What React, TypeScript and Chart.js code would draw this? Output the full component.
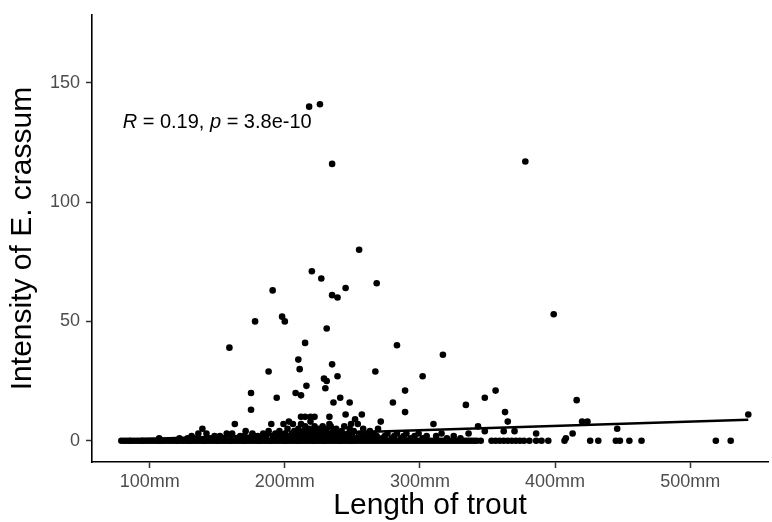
import React, { useEffect, useRef } from "react";
import { Chart, registerables } from "chart.js";

Chart.register(...registerables);

// Fish with zero E. crassum (length in mm)
const zeroLengths = [
  79, 81, 83, 85, 86, 88, 90, 92, 94, 95, 97, 99, 101, 103, 105, 107, 108, 110, 112, 114,
  116, 118, 120, 121, 123, 125, 127, 129, 130, 132, 134, 136, 138, 140, 141, 143, 145, 147,
  149, 150, 152, 154, 156, 158, 160, 161, 163, 165, 167, 169, 170, 172, 174, 176, 178, 180,
  181, 183, 185, 187, 189, 190, 192, 194, 196, 198, 200, 201, 203, 205, 207, 209, 210, 212,
  214, 216, 218, 220, 221, 223, 225, 227, 229, 230, 232, 234, 236, 238, 240, 241, 243, 245,
  247, 249, 250, 252, 254, 256, 258, 260, 262, 264, 266, 268, 270, 272, 274, 276, 278, 280,
  282, 284, 286, 288, 290, 292, 294, 296, 298, 300, 302, 304, 306, 308, 310, 312, 314, 316,
  318, 320, 322, 324, 326, 328, 330, 332, 334, 336, 338, 340, 342, 345, 353, 356, 359, 362,
  365, 368, 371, 374, 377, 381, 386, 390, 395, 407, 426, 432, 445, 448, 455, 464, 519, 530,
];

// Infected fish: length (mm) and intensity
const infectedLengths = [
  218, 226, 235, 378, 255, 220, 227, 268, 191, 245, 235, 239, 399, 198, 200, 178, 231, 215,
  283, 159, 317, 210, 211, 235, 188, 267, 239, 229, 231, 302, 216, 230, 175, 194, 208, 212,
  241, 236, 248, 280, 289, 289, 334, 348, 356, 363, 365, 416, 175, 245, 257, 543, 233, 212,
  215, 219, 222, 252, 254, 249, 271, 310, 163, 190, 203, 199, 206, 212, 219, 233, 234, 420,
  424, 343, 446, 139, 136, 142, 161, 171, 107, 413, 408, 386, 362, 370, 348,
  122, 128, 131, 133, 145, 148, 150, 152, 155, 157, 160, 165, 167, 170, 174, 176, 178, 180,
  182, 184, 186, 188, 191, 193, 195, 196, 198, 200, 201, 202, 204, 205, 207, 208, 209, 210,
  211, 213, 214, 215, 216, 217, 218, 220, 221, 222, 223, 224, 225, 226, 227, 228, 229, 230,
  231, 232, 234, 235, 236, 237, 238, 239, 240, 241, 242, 243, 244, 245, 246, 247, 248, 250,
  251, 253, 255, 256, 258, 259, 260, 262, 263, 265, 266, 268, 269, 272, 274, 276, 279, 281,
  283, 286, 288, 290, 293, 296, 299, 302, 305, 312, 316, 320, 325, 330, 336,
];
const infectedCounts = [
  140, 141, 116, 117, 80, 71, 68, 66, 63, 64, 61, 60, 53, 52, 50, 50, 47, 41,
  40, 39, 36, 34, 30, 32, 29, 29, 27, 26, 25, 27, 23, 22, 20, 18, 20, 19,
  18, 16, 16, 16, 21, 12, 15, 18, 21, 12, 8, 17, 13, 11, 11, 11, 10, 10,
  10, 10, 10, 9, 7, 7, 8, 7, 7, 7, 8, 7, 7, 7, 8, 7, 6, 8,
  8, 6, 5, 5, 3, 3, 3, 4, 1, 3, 1, 3, 4, 4, 4,
  1, 1, 2, 1, 1, 2, 1, 2, 1, 3, 2, 1, 2, 2, 1, 3, 2, 2,
  1, 3, 2, 4, 2, 3, 1, 4, 2, 3, 1, 5, 2, 3, 4, 1, 2, 5,
  3, 2, 4, 6, 1, 3, 5, 2, 4, 6, 1, 3, 5, 2, 4, 6, 1, 3,
  5, 2, 3, 1, 4, 2, 5, 3, 1, 2, 4, 3, 6, 2, 1, 3, 5, 2,
  4, 1, 3, 2, 5, 1, 3, 2, 4, 1, 3, 2, 5, 1, 2, 3, 1, 2,
  3, 1, 2, 3, 1, 2, 3, 1, 2, 2, 3, 1, 2, 1, 3,
];

// Linear fit endpoints (over the data range)
const fitLengths = [79, 543];
const fitIntensity = [0.4, 8.8];

const xTickValues = [100, 200, 300, 400, 500];
const yTickValues = [0, 50, 100, 150];

const corLabelParts = [
  { text: "R", italic: true },
  { text: " = 0.19, ", italic: false },
  { text: "p", italic: true },
  { text: " = 3.8e-10", italic: false },
];
const corLabelX = 80;
const corLabelY = 131;

const FONT = '"Liberation Sans", Arial, sans-serif';

const corLabelPlugin = {
  id: "corLabel",
  afterDatasetsDraw(chart: any) {
    const ctx = chart.ctx;
    const x0 = chart.scales.x.getPixelForValue(corLabelX);
    const y0 = chart.scales.y.getPixelForValue(corLabelY);
    ctx.save();
    ctx.fillStyle = "#000";
    ctx.textBaseline = "alphabetic";
    ctx.textAlign = "left";
    let x = x0;
    for (const part of corLabelParts) {
      ctx.font = `${part.italic ? "italic " : ""}20px ${FONT}`;
      ctx.fillText(part.text, x, y0);
      x += ctx.measureText(part.text).width;
    }
    ctx.restore();
  },
};

export default function App() {
  const canvasRef = useRef<HTMLCanvasElement | null>(null);

  useEffect(() => {
    if (!canvasRef.current) return;
    const zeroPoints = zeroLengths.map((l) => ({ x: l, y: 0 }));
    const infectedPoints = infectedLengths.map((l, i) => ({ x: l, y: infectedCounts[i] }));
    const fitPoints = fitLengths.map((l, i) => ({ x: l, y: fitIntensity[i] }));

    const chart = new Chart(canvasRef.current, {
      type: "scatter",
      data: {
        datasets: [
          {
            data: fitPoints,
            showLine: true,
            borderColor: "#000",
            borderWidth: 2.4,
            pointRadius: 0,
            fill: false,
          } as any,
          {
            data: infectedPoints,
            pointRadius: 3.3,
            backgroundColor: "#000",
            borderWidth: 0,
          },
          {
            data: zeroPoints,
            pointRadius: 3.3,
            backgroundColor: "#000",
            borderWidth: 0,
          },
        ],
      },
      options: {
        responsive: false,
        animation: false,
        devicePixelRatio: 1,
        layout: { padding: { top: 15, right: 1, left: 0, bottom: 0 } },
        plugins: {
          legend: { display: false },
          tooltip: { enabled: false },
        },
        events: [],
        scales: {
          x: {
            type: "linear",
            min: 57.3,
            max: 557.6,
            afterBuildTicks: (s: any) => {
              s.ticks = xTickValues.map((v) => ({ value: v }));
            },
            afterFit: (s: any) => {
              s.height = 60;
              s.paddingLeft = 0;
              s.paddingRight = 0;
            },
            ticks: {
              callback: (v: any) => `${v}mm`,
              font: { family: FONT, size: 18 },
              color: "#4D4D4D",
              padding: 3,
              maxRotation: 0,
              autoSkip: false,
            },
            grid: {
              display: true,
              drawOnChartArea: false,
              drawTicks: true,
              tickLength: 6,
              tickColor: "#333333",
              tickWidth: 1.5,
              color: "#333333",
            },
            border: { display: true, color: "#000", width: 1.6 },
            title: {
              display: true,
              text: "Length of trout",
              color: "#000",
              font: { family: FONT, size: 30, lineHeight: 1 },
              padding: { top: 0, bottom: 1 },
            },
          },
          y: {
            type: "linear",
            min: -8.92,
            max: 178.4,
            afterBuildTicks: (s: any) => {
              s.ticks = yTickValues.map((v) => ({ value: v }));
            },
            afterFit: (s: any) => {
              s.width = 92;
              s.paddingTop = 0;
              s.paddingBottom = 0;
            },
            ticks: {
              font: { family: FONT, size: 18 },
              color: "#4D4D4D",
              padding: 6,
              autoSkip: false,
            },
            grid: {
              display: true,
              drawOnChartArea: false,
              drawTicks: true,
              tickLength: 6,
              tickColor: "#333333",
              tickWidth: 1.5,
              color: "#333333",
            },
            border: { display: true, color: "#000", width: 1.6 },
            title: {
              display: true,
              text: "Intensity of E. crassum",
              color: "#000",
              font: { family: FONT, size: 30, lineHeight: 1 },
              padding: { top: 7.6, bottom: 0 },
            },
          },
        },
      },
      plugins: [corLabelPlugin],
    });
    return () => chart.destroy();
  }, []);

  return (
    <div style={{ position: "fixed", left: 0, top: 0, width: 772, height: 522, background: "#fff" }}>
      <canvas ref={canvasRef} width={772} height={522} style={{ display: "block" }} />
    </div>
  );
}
